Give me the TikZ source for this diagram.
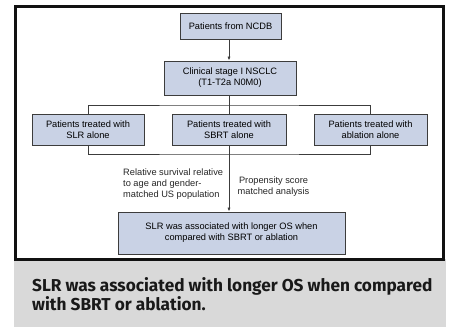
\documentclass[tikz,border=0pt]{standalone}
\usepackage{fontspec}
\setmainfont{Liberation Sans}
\newfontfamily\capfont{Fira Sans}
\usetikzlibrary{arrows.meta}
\definecolor{boxfill}{HTML}{C9D2E5}
\definecolor{boxline}{HTML}{3C3C3C}
\definecolor{capgray}{HTML}{D9D9D9}
\definecolor{framec}{HTML}{111111}
\tikzset{
  flowbox/.style={draw=boxline, fill=boxfill, line width=0.9bp, align=center, inner sep=0pt,
    font=\fontsize{9.3}{11}\selectfont},
  conn/.style={draw=boxline, line width=0.8bp},
  arr/.style={conn, -{Latex[length=4bp,width=3.2bp]}},
  lbl/.style={inner sep=0pt, font=\fontsize{9.3}{11}\selectfont, text=black!85}
}
\begin{document}
\begin{tikzpicture}[x=1bp,y=-1bp]
\useasboundingbox (0,0) rectangle (450,327);
\fill[capgray] (14,259) rectangle (446,327);
\draw[framec, line width=3bp] (15.5,6) rectangle (443.5,259.5);

\node[flowbox, minimum width=101bp, minimum height=26bp] (ncdb) at (230.5,26) {Patients from NCDB};
\node[flowbox, minimum width=132bp, minimum height=34bp] (clin) at (230,78) {Clinical stage I NSCLC\\(T1-T2a N0M0)};
\node[flowbox, minimum width=112bp, minimum height=31bp] (slr) at (88,129.5) {Patients treated with\\SLR alone};
\node[flowbox, minimum width=114bp, minimum height=31bp] (sbrt) at (229,129.5) {Patients treated with\\SBRT alone};
\node[flowbox, minimum width=113bp, minimum height=31bp] (abl) at (370.5,129.5) {Patients treated with\\ablation alone};
\node[flowbox, minimum width=227bp, minimum height=42bp] (res) at (231.5,233) {SLR was associated with longer OS when\\compared with SBRT or ablation};

\coordinate (topbar) at (229,105);
\coordinate (botbar) at (229,154);

\draw[arr] (ncdb.south -| sbrt.north) -- (clin.north -| sbrt.north);
\draw[conn] (clin.south -| sbrt.north) -- (sbrt.north);
\draw[conn] (slr.north) |- (topbar) -| (abl.north);
\draw[conn] (slr.south) |- (botbar) -| (abl.south);
\draw[arr] (sbrt.south) -- (res.north -| sbrt.south);

\node[lbl, align=left, anchor=north west] (surv) at (123,169) {Relative survival relative\\to age and gender-\\matched US population};
\node[lbl, align=center, anchor=north] (prop) at (273.5,177) {Propensity score\\matched analysis};

\node[inner sep=0pt, anchor=north west, align=left, text=black!90,
  font=\capfont\bfseries\fontsize{17.3}{19.5}\selectfont] (cap) at (32,277)
  {SLR was associated with longer OS when compared\\with SBRT or ablation.};
\end{tikzpicture}
\end{document}
